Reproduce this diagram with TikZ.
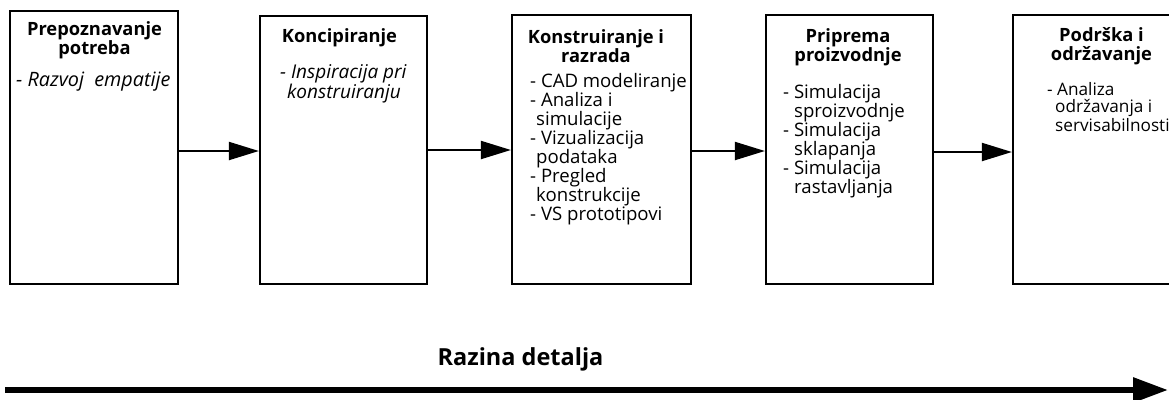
\documentclass[tikz,border=0pt]{standalone}
\usepackage{fontspec}
\setmainfont{Open Sans}
\usetikzlibrary{arrows.meta}
\tikzset{
  stagebox/.style={draw=black, line width=2.2pt, inner sep=0pt},
  ttl/.style={font=\fontsize{18.3}{19}\selectfont\bfseries, align=center, inner sep=0pt, anchor=base},
  bodytxt/.style={font=\fontsize{18.6}{19}\selectfont, align=left, inner sep=0pt, anchor=base west},
  arr/.style={line width=2pt, -{Triangle[length=30pt,width=18pt]}},
  bigarr/.style={line width=6pt, -{Triangle[length=35pt,width=24pt]}},
}
\begin{document}
\begin{tikzpicture}[x=1pt,y=-1pt]
\useasboundingbox (0,0) rectangle (1169,399);
\clip (0,0) rectangle (1169,399);
% boxes
\node[stagebox, minimum width=168pt, minimum height=273pt] (b1) at (94,147.5) {};
\node[stagebox, minimum width=167pt, minimum height=268pt] (b2) at (343.5,150) {};
\node[stagebox, minimum width=179pt, minimum height=269pt] (b3) at (601.5,149.5) {};
\node[stagebox, minimum width=167pt, minimum height=269pt] (b4) at (849.5,149.5) {};
\node[stagebox, minimum width=176pt, minimum height=269pt] (b5) at (1101,149.5) {};
% titles (anchor = baseline of the last line)
\node[ttl] (t1) at (94.5,54) {Prepoznavanje\\potreba};
\node[ttl] (t2) at (339.5,42) {Koncipiranje};
\node[ttl] (t3) at (596,62) {Konstruiranje i\\razrada};
\node[ttl] (t4) at (848,61) {Priprema\\proizvodnje};
\node[ttl] (t5) at (1101.5,60) {Podrška i\\održavanje};
% bodies (anchor = baseline of the last line)
\node[bodytxt, font=\fontsize{19.8}{19}\selectfont\itshape] (d1) at (16,86) {- Razvoj\ \ empatije};
\node[bodytxt, font=\fontsize{19}{18}\selectfont\itshape] (d2) at (280,98) {- Inspiracija pri\\\hspace*{7pt}konstruiranju};
\node[bodytxt] (d3) at (530,220) {- CAD modeliranje\\- Analiza i\\\hspace*{6pt}simulacije\\- Vizualizacija\\\hspace*{6pt}podataka\\- Pregled\\\hspace*{6pt}konstrukcije\\- VS prototipovi};
\node[bodytxt] (d4) at (783,193) {- Simulacija\\\hspace*{11pt}sproizvodnje\\- Simulacija\\\hspace*{11pt}sklapanja\\- Simulacija\\\hspace*{11pt}rastavljanja};
\node[bodytxt, font=\fontsize{17.2}{17}\selectfont] (d5) at (1047,131) {- Analiza\\\hspace*{8pt}održavanja i\\\hspace*{8pt}servisabilnosti};
% connectors
\coordinate (y1) at (0,151);
\coordinate (y2) at (0,150);
\coordinate (y3) at (0,151);
\coordinate (y4) at (0,152);
\draw[arr] (b1.east |- y1) -- (b2.west |- y1);
\draw[arr] (b2.east |- y2) -- (b3.west |- y2);
\draw[arr] (b3.east |- y3) -- (b4.west |- y3);
\draw[arr] (b4.east |- y4) -- (b5.west |- y4);
% level of detail
\node[font=\fontsize{23.5}{26}\selectfont\bfseries, anchor=base, inner sep=0pt] (lvl) at (520.5,365) {Razina detalja};
\coordinate (s) at (5,390);
\coordinate (e) at (1168,390);
\draw[bigarr] (s) -- (e);
\end{tikzpicture}
\end{document}
